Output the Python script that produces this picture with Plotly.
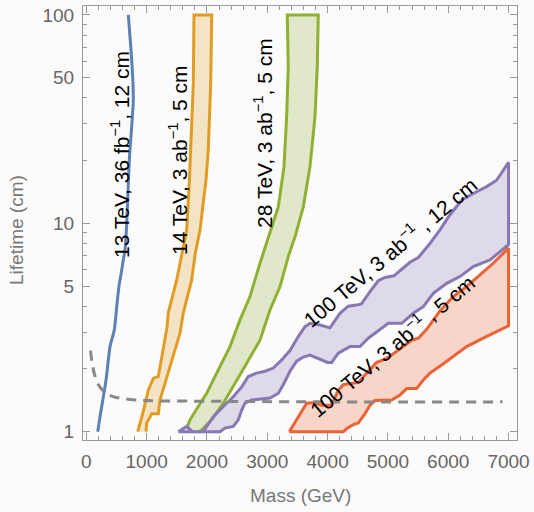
import math
import plotly.graph_objects as go

# ---------------- data (mass in GeV, lifetime in cm) ----------------
blue_mass = [189, 227, 327, 393, 464, 504, 542, 587, 613, 641, 670, 713, 752, 779, 769, 741, 696]
blue_tau = [1.0, 1.18, 1.77, 2.56, 3.08, 3.98, 5.0, 5.97, 6.67, 7.45, 10, 20.2, 29.1, 39.1, 50, 68, 100]

orange_left_mass = [852, 935, 1028, 1111, 1194, 1276, 1340, 1359, 1498, 1581, 1664, 1709, 1740, 1774, 1785]
orange_left_tau = [1.0, 1.22, 1.58, 1.80, 1.84, 2.47, 3.2, 3.72, 5.35, 7.05, 9.28, 16.1, 25, 47, 100]
orange_right_mass = [990, 1001, 1084, 1194, 1222, 1304, 1387, 1470, 1553, 1608, 1747, 1802, 1885, 1984, 2022, 2062, 2079]
orange_right_tau = [1.0, 1.1, 1.22, 1.22, 1.42, 1.71, 2.05, 2.47, 2.97, 3.72, 5.35, 7.05, 9.28, 16.1, 22.5, 47, 100]

green_left_mass = [1665, 1719, 1856, 1996, 2161, 2382, 2548, 2713, 2879, 3017, 3183, 3277, 3321, 3348, 3331]
green_left_tau = [1.04, 1.14, 1.32, 1.53, 1.91, 2.56, 3.44, 4.45, 6.43, 8.5, 12, 18.7, 32.5, 56.5, 100]
green_right_mass = [1830, 1885, 1913, 2078, 2271, 2465, 2659, 2879, 3045, 3211, 3348, 3470, 3597, 3708, 3791, 3829, 3845]
green_right_tau = [1.0, 1.0, 1.02, 1.14, 1.37, 1.71, 2.13, 2.75, 3.84, 4.97, 6.92, 8.8, 12, 18.7, 32.5, 56.5, 100]

purple_low_mass = [1525, 2216, 2299, 2437, 2520, 2576, 2631, 2741, 3045, 3183, 3265, 3376, 3487, 3597, 3708,
                   3845, 4000, 4067, 4177, 4371, 4537, 4674, 4868, 5006, 5228, 5420, 5586, 5752, 5974,
                   6194, 6415, 6692, 7000]
purple_low_tau = [1.0, 1.0, 1.04, 1.06, 1.14, 1.27, 1.37, 1.42, 1.45, 1.53, 1.68, 1.95, 2.18, 2.28, 2.33,
                  2.25, 2.15, 2.15, 2.38, 2.56, 2.56, 2.81, 3.08, 3.31, 3.31, 3.7, 3.98, 4.61, 5.15,
                  5.55, 6.2, 6.67, 7.9]
purple_up_mass = [1940, 1996, 2105, 2271, 2437, 2576, 2686, 2824, 2962, 3100, 3239, 3376, 3514, 3625, 3708,
                  3874, 4040, 4205, 4343, 4480, 4560, 4703, 4840, 4951, 5100, 5200, 5365, 5503, 5697,
                  5863, 6029, 6222, 6415, 6637, 6802, 7000]
purple_up_tau = [1.0, 1.06, 1.18, 1.32, 1.47, 1.64, 1.84, 1.91, 1.95, 2.02, 2.21, 2.45, 2.86, 3.19, 3.31,
                 3.25, 3.15, 3.7, 4.0, 4.05, 4.1, 4.7, 5.3, 5.5, 5.6, 5.9, 6.5, 6.85, 8.0,
                 9.3, 11, 12.9, 13.9, 15, 16.1, 19.6]
purple_bump_mass = [1760, 1664, 1525]
purple_bump_tau = [1.0, 1.06, 1.0]

red_low_mass = [3365, 4260, 4326, 4426, 4508, 4620, 4703, 4786, 5062, 5200, 5310, 5476, 5586, 5697, 5891,
                6083, 6305, 6580, 7000]
red_low_tau = [1.0, 1.0, 1.04, 1.08, 1.1, 1.22, 1.34, 1.41, 1.42, 1.5, 1.61, 1.61, 1.77, 1.91, 2.09,
               2.29, 2.56, 2.81, 3.22]
red_up_mass = [3365, 3653, 3780, 3902, 4067, 4177, 4260, 4426, 4508, 4648, 4814, 4923, 5034, 5145, 5283,
               5400, 5503, 5642, 5863, 6083, 6305, 6526, 6746, 7000]
red_up_tau = [1.0, 1.37, 1.38, 1.34, 1.34, 1.58, 1.68, 1.71, 1.72, 1.91, 2.15, 2.21, 2.3, 2.45, 2.6,
              2.75, 2.81, 3.1, 3.8, 4.45, 4.97, 5.65, 6.43, 7.6]

dash_mass = [70, 100, 150, 200, 300, 400, 500, 700, 1000, 2000, 4000, 6900]
dash_tau = [2.45, 2.1, 1.82, 1.68, 1.55, 1.49, 1.46, 1.43, 1.41, 1.40, 1.39, 1.39]

x_ticks = [0, 1000, 2000, 3000, 4000, 5000, 6000, 7000]
y_ticks = [1, 5, 10, 50, 100]
y_minor = [2, 3, 4, 6, 7, 8, 9, 20, 30, 40, 60, 70, 80, 90]
x_minor = list(range(0, 7001, 200))

labels = [
    dict(text="13 TeV, 36 fb<sup>−1</sup>, 12 cm", m=559, t=10 ** 1.328, angle=-90),
    dict(text="14 TeV, 3 ab<sup>−1</sup>, 5 cm", m=1520, t=10 ** 1.304, angle=-90),
    dict(text="28 TeV, 3 ab<sup>−1</sup>, 5 cm", m=2929, t=10 ** 1.434, angle=-90),
    dict(text="100 TeV, 3 ab<sup>−1</sup> , 12 cm", m=5034, t=10 ** 0.867, angle=-40),
    dict(text="100 TeV, 3 ab<sup>−1</sup> , 5 cm", m=5067, t=10 ** 0.416, angle=-40),
]

BLUE = "#5E81B5"
ORANGE = "#E19C24"
GREEN = "#8FB032"
PURPLE = "#8778B3"
RED = "#EB6235"


def rgba(h, a):
    h = h.lstrip("#")
    return "rgba(%d,%d,%d,%.2f)" % (int(h[0:2], 16), int(h[2:4], 16), int(h[4:6], 16), a)


fig = go.Figure()


def band(xs, ys, color):
    fig.add_trace(go.Scatter(x=xs, y=ys, mode="lines", fill="toself",
                             fillcolor=rgba(color, 0.25),
                             line=dict(color=color, width=3),
                             hoverinfo="skip", showlegend=False))


band(orange_left_mass + orange_right_mass[::-1], orange_left_tau + orange_right_tau[::-1], ORANGE)
band(green_left_mass + green_right_mass[::-1], green_left_tau + green_right_tau[::-1], GREEN)
band(purple_low_mass + purple_up_mass[::-1] + purple_bump_mass,
     purple_low_tau + purple_up_tau[::-1] + purple_bump_tau, PURPLE)
band(red_low_mass + red_up_mass[::-1], red_low_tau + red_up_tau[::-1], RED)

fig.add_trace(go.Scatter(x=blue_mass, y=blue_tau, mode="lines",
                         line=dict(color=BLUE, width=3, shape="spline", smoothing=0.6),
                         showlegend=False))
fig.add_trace(go.Scatter(x=dash_mass, y=dash_tau, mode="lines",
                         line=dict(color="#888888", width=3, dash="10px,7px", shape="spline"),
                         showlegend=False))

FONT = "Liberation Sans, Arial"
for lb in labels:
    fig.add_annotation(x=lb["m"], y=math.log10(lb["t"]), xref="x", yref="y",
                       text=lb["text"], textangle=lb["angle"], showarrow=False,
                       font=dict(family=FONT, size=21, color="black"))

# axis titles
fig.add_annotation(x=0.5, y=-0.127, xref="paper", yref="paper", text="Mass (GeV)",
                   showarrow=False, xanchor="center", yanchor="middle",
                   font=dict(family=FONT, size=19, color="#777777"))
fig.add_annotation(x=-0.152, y=0.484, xref="paper", yref="paper", text="Lifetime (cm)",
                   showarrow=False, textangle=-90, xanchor="center", yanchor="middle",
                   font=dict(family=FONT, size=19, color="#777777"))

gray = "#999999"
tickfont = dict(family=FONT, size=19, color="#666666")
fig.update_layout(
    width=534, height=512,
    margin=dict(l=83, r=17, t=6, b=72),
    paper_bgcolor="#fbfbfb", plot_bgcolor="#fbfbfb",
    xaxis=dict(range=[-55, 7140], tickvals=x_ticks, ticks="inside", ticklen=7, tickcolor=gray,
               showline=True, linecolor=gray, linewidth=1, mirror="ticks", showgrid=False,
               zeroline=False, tickfont=tickfont, ticklabelstandoff=4, automargin=False,
               minor=dict(tickvals=x_minor, ticks="inside", ticklen=4, tickcolor=gray)),
    yaxis=dict(type="log", range=[-0.04, 2.043], tickvals=y_ticks, ticktext=[str(v) for v in y_ticks],
               ticks="inside", ticklen=7, tickcolor=gray,
               showline=True, linecolor=gray, linewidth=1, mirror="ticks", showgrid=False,
               zeroline=False, tickfont=tickfont, ticklabelstandoff=4, automargin=False,
               minor=dict(tickvals=y_minor, ticks="inside", ticklen=4, tickcolor=gray)),
)

fig.write_html("out.html", config={"displayModeBar": False},
               post_script="document.body.style.margin='0';document.body.style.background='#fbfbfb';")
